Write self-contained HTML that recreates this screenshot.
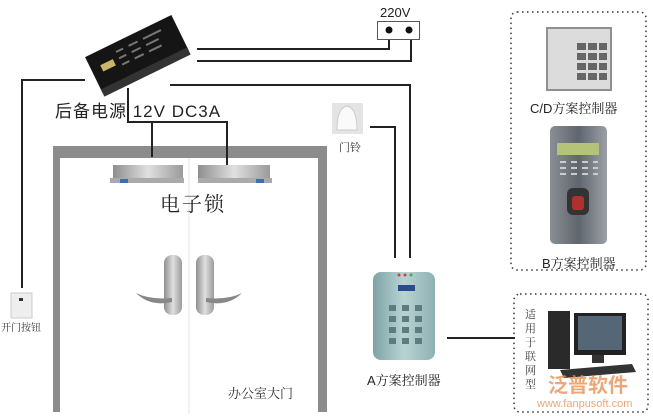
<!DOCTYPE html>
<html><head><meta charset="utf-8"><style>
html,body{margin:0;padding:0;background:#fff;}
svg{display:block;font-family:"Liberation Sans","Noto Sans CJK SC",sans-serif;}
.s{font-family:"Noto Serif CJK SC","Liberation Serif",serif;}
</style></head><body>
<svg width="653" height="416" viewBox="0 0 653 416" xmlns="http://www.w3.org/2000/svg">
<defs>
<linearGradient id="hg" x1="0" x2="1"><stop offset="0" stop-color="#8e8e8e"/><stop offset=".5" stop-color="#e0e0e0"/><stop offset="1" stop-color="#9a9a9a"/></linearGradient>
<linearGradient id="ag" x1="0" x2="1"><stop offset="0" stop-color="#7ea3a6"/><stop offset=".5" stop-color="#b9d3d3"/><stop offset="1" stop-color="#8fb0b2"/></linearGradient>
<linearGradient id="bg" x1="0" x2="1"><stop offset="0" stop-color="#8a8f95"/><stop offset=".5" stop-color="#60666d"/><stop offset="1" stop-color="#9aa0a6"/></linearGradient>
</defs>
<!-- door frame -->
<rect x="53" y="146" width="274" height="266" fill="#8c8c8c"/>
<rect x="60" y="158" width="258" height="256" fill="#fff"/>
<line x1="189" y1="158" x2="189" y2="414" stroke="#e6e6e6"/>
<!-- wires -->
<g stroke="#222" stroke-width="2" fill="none">
<polyline points="197,49 389,49 389,37"/>
<polyline points="197,61 411,61 411,37"/>
<polyline points="170,85 410,85 410,258"/>
<polyline points="370,127 395,127 395,258"/>
<polyline points="85,80 22,80 22,288"/>
<polyline points="128,88 128,122 227,122 227,180"/>
<polyline points="152,122 152,157"/>
<line x1="447" y1="338" x2="515" y2="338"/>
</g>
<!-- power supply -->
<g transform="translate(137,54) rotate(-26)">
<rect x="-48" y="-20" width="96" height="40" fill="#151515"/>
<rect x="-48" y="16" width="96" height="8" fill="#333"/>
<rect x="-38" y="-6" width="14" height="7" fill="#c9b66a"/>
<g fill="#777"><rect x="-18" y="-12" width="8" height="2"/><rect x="-4" y="-12" width="10" height="2"/><rect x="12" y="-12" width="20" height="2"/><rect x="-18" y="-5" width="8" height="2"/><rect x="-4" y="-5" width="10" height="2"/><rect x="12" y="-5" width="14" height="2"/><rect x="-18" y="2" width="8" height="2"/><rect x="-4" y="2" width="10" height="2"/><rect x="12" y="2" width="14" height="2"/></g>
</g>
<!-- socket -->
<text x="380" y="17" font-size="13" fill="#222">220V</text>
<rect x="377.5" y="21.5" width="42" height="18" fill="#fff" stroke="#555"/>
<circle cx="389" cy="30" r="3.5" fill="#111"/><circle cx="409" cy="30" r="3.5" fill="#111"/>
<!-- labels -->
<text x="55" y="117" font-size="17" fill="#222" letter-spacing="1">后备电源 12V DC3A</text>
<!-- locks -->
<g>
<rect x="113" y="165" width="70" height="16" fill="url(#hg)"/><rect x="110" y="178" width="74" height="5" fill="#aaa"/><rect x="120" y="179" width="8" height="4" fill="#3a6fb0"/>
<rect x="198" y="165" width="72" height="16" fill="url(#hg)"/><rect x="198" y="178" width="74" height="5" fill="#aaa"/><rect x="256" y="179" width="8" height="4" fill="#3a6fb0"/>
</g>
<text x="160" y="211" font-size="20" class="s" fill="#222" letter-spacing="2">电子锁</text>
<!-- handles -->
<rect x="164" y="255" width="18" height="60" rx="8" fill="url(#hg)"/>
<path d="M136,293 Q150,307 172,302 L172,298 Q150,300 136,293Z" fill="#888"/>
<rect x="196" y="255" width="18" height="60" rx="8" fill="url(#hg)"/>
<path d="M242,293 Q228,307 206,302 L206,298 Q228,300 242,293Z" fill="#888"/>
<text x="228" y="398" font-size="13" class="s" fill="#333">办公室大门</text>
<!-- exit button -->
<rect x="11" y="293" width="21" height="25" fill="#eee" stroke="#ccc"/><rect x="19" y="298" width="4" height="3" fill="#333"/>
<text x="1" y="331" font-size="10" class="s" fill="#333">开门按钮</text>
<!-- bell -->
<rect x="332" y="103" width="31" height="31" fill="#e4e4e4"/>
<path d="M337,130 Q337,108 347,106 Q357,108 357,130Z" fill="#fafafa" stroke="#ccc"/>
<text x="339" y="151" font-size="11" class="s" fill="#333">门铃</text>
<!-- A controller -->
<rect x="373" y="272" width="62" height="88" rx="8" fill="url(#ag)"/>
<circle cx="399" cy="275" r="1.5" fill="#c44"/><circle cx="405" cy="275" r="1.5" fill="#c44"/><circle cx="411" cy="275" r="1.5" fill="#4a4"/>
<rect x="398" y="285" width="17" height="6" fill="#2a4c8a"/>
<g fill="#5c7c7e">
<rect x="389" y="305" width="7" height="6"/><rect x="402" y="305" width="7" height="6"/><rect x="415" y="305" width="7" height="6"/>
<rect x="389" y="316" width="7" height="6"/><rect x="402" y="316" width="7" height="6"/><rect x="415" y="316" width="7" height="6"/>
<rect x="389" y="327" width="7" height="6"/><rect x="402" y="327" width="7" height="6"/><rect x="415" y="327" width="7" height="6"/>
<rect x="389" y="338" width="7" height="6"/><rect x="402" y="338" width="7" height="6"/><rect x="415" y="338" width="7" height="6"/>
</g>
<text x="367" y="385" font-size="13" fill="#222">A<tspan class="s">方案控制器</tspan></text>
<!-- dotted boxes -->
<rect x="511" y="12" width="135" height="258" rx="6" fill="none" stroke="#333" stroke-width="1.5" stroke-dasharray="1.5,3.5"/>
<rect x="514" y="294" width="134" height="118" rx="6" fill="none" stroke="#333" stroke-width="1.5" stroke-dasharray="1.5,3.5"/>
<!-- CD keypad -->
<rect x="546" y="27" width="66" height="64" fill="#8f8f8f"/>
<rect x="548" y="29" width="62" height="60" fill="#dcdcdc"/>
<g fill="#666"><rect x="577" y="43" width="9" height="7"/><rect x="588" y="43" width="9" height="7"/><rect x="599" y="43" width="8" height="7"/>
<rect x="577" y="53" width="9" height="7"/><rect x="588" y="53" width="9" height="7"/><rect x="599" y="53" width="8" height="7"/>
<rect x="577" y="63" width="9" height="7"/><rect x="588" y="63" width="9" height="7"/><rect x="599" y="63" width="8" height="7"/>
<rect x="577" y="73" width="9" height="7"/><rect x="588" y="73" width="9" height="7"/><rect x="599" y="73" width="8" height="7"/></g>
<text x="530" y="113" font-size="13" fill="#222">C/D<tspan class="s">方案控制器</tspan></text>
<!-- B controller -->
<rect x="550" y="126" width="57" height="118" rx="5" fill="url(#bg)"/>
<rect x="557" y="143" width="42" height="12" fill="#b4c27a"/>
<g fill="#ccc"><rect x="560" y="161" width="6" height="2"/><rect x="571" y="161" width="6" height="2"/><rect x="582" y="161" width="6" height="2"/><rect x="593" y="161" width="5" height="2"/>
<rect x="560" y="167" width="6" height="2"/><rect x="571" y="167" width="6" height="2"/><rect x="582" y="167" width="6" height="2"/><rect x="593" y="167" width="5" height="2"/>
<rect x="560" y="173" width="6" height="2"/><rect x="571" y="173" width="6" height="2"/><rect x="582" y="173" width="6" height="2"/><rect x="593" y="173" width="5" height="2"/></g>
<rect x="567" y="188" width="22" height="27" rx="6" fill="#333"/><rect x="572" y="196" width="12" height="14" rx="3" fill="#b03030"/>
<text x="542" y="268" font-size="13" fill="#222">B<tspan class="s">方案控制器</tspan></text>
<!-- computer -->
<text class="s" font-size="11" fill="#444"><tspan x="525" y="318">适</tspan><tspan x="525" y="332">用</tspan><tspan x="525" y="346">于</tspan><tspan x="525" y="360">联</tspan><tspan x="525" y="374">网</tspan><tspan x="525" y="388">型</tspan></text>
<rect x="548" y="311" width="22" height="58" fill="#2a2a2a"/>
<rect x="574" y="313" width="52" height="42" fill="#222"/><rect x="578" y="316" width="44" height="34" fill="#556677"/>
<rect x="592" y="355" width="12" height="8" fill="#333"/>
<polygon points="560,370 632,364 636,372 564,378" fill="#333"/>
<text x="548" y="392" font-size="20" font-weight="bold" fill="#e58a4a" opacity=".75">泛普软件</text>
<text x="537" y="407" font-size="11" fill="#e58a4a" opacity=".75">www.fanpusoft.com</text>
</svg>
</body></html>
